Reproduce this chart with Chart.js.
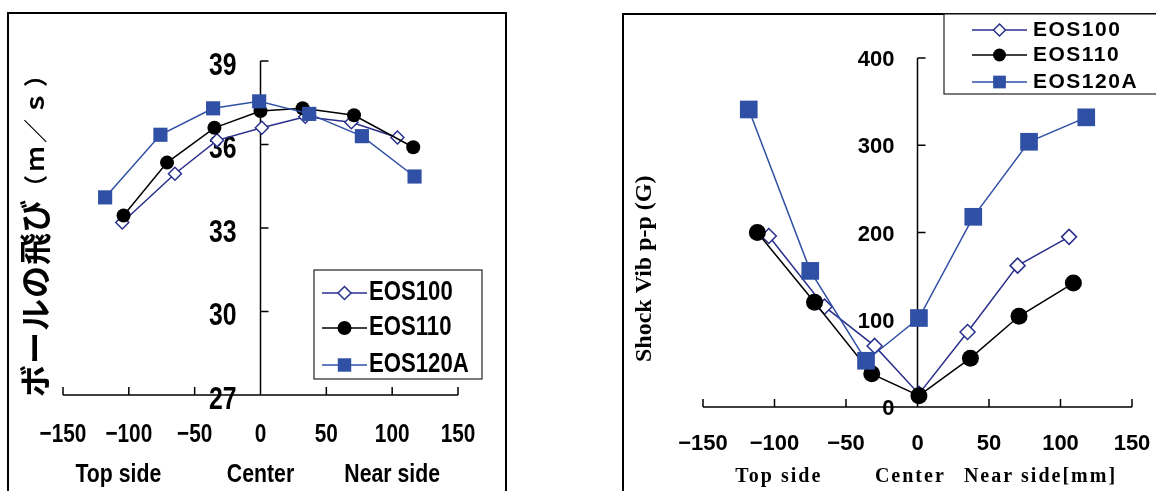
<!DOCTYPE html>
<html>
<head>
<meta charset="utf-8">
<script src="https://cdn.jsdelivr.net/npm/chart.js@4.4.1/dist/chart.umd.min.js"></script>
<style>
  html, body { margin: 0; padding: 0; background: #fff; overflow: hidden; width: 1156px; height: 491px; }
  .frame { position: absolute; border: 2px solid #000; box-sizing: border-box; height: 600px; }
  #frameL { left: 7px; top: 12px; width: 500px; }
  #frameR { left: 622px; top: 13px; width: 600px; }
  canvas { position: absolute; top: 0; }
  #speed { left: 0; }
  #vib { left: 560px; }
</style>
</head>
<body>
<div class="frame" id="frameL"></div>
<div class="frame" id="frameR"></div>
<canvas id="speed" width="560" height="491" style="width:560px;height:491px"></canvas>
<canvas id="vib" width="596" height="491" style="width:596px;height:491px"></canvas>
<script>
// --- data ---
const seriesNames = ['EOS100', 'EOS110', 'EOS120A'];

// left: ball speed (m/s) vs position (mm)
const speedX100 = [-105, -65, -33, 1, 34, 69, 104];
const speed100  = [33.2, 34.95, 36.15, 36.6, 37.0, 36.8, 36.25];
const speedX110 = [-104, -71, -35, 0, 32, 71, 116];
const speed110  = [33.45, 35.35, 36.6, 37.2, 37.3, 37.05, 35.9];
const speedX120 = [-118, -76, -36, -1, 37, 77, 117];
const speed120  = [34.1, 36.35, 37.3, 37.55, 37.1, 36.3, 34.85];
const speedYTicks = [27, 30, 33, 36, 39];

// right: shock vibration p-p (G) vs position (mm)
const vibX100 = [-104, -65, -30, 1, 35, 70, 106];
const vib100  = [196, 115, 70, 15, 86, 162, 195];
const vibX110 = [-112, -72, -32, 1, 37, 71, 109];
const vib110  = [200, 120, 38, 13, 56, 104, 142];
const vibX120 = [-118, -75, -36, 1, 39, 78, 118];
const vib120  = [341, 156, 53, 102, 218, 304, 332];
const vibYTicks = [0, 100, 200, 300, 400];

const xTicks = [-150, -100, -50, 0, 50, 100, 150];

const NAVY = '#2a2f8c';
const BLUE = '#2f50a4';

const pts = (xs, ys) => xs.map((x, i) => ({ x: x, y: ys[i] }));

function txt(ctx, s, x, y, font, align, sx, spacing) {
  ctx.save();
  ctx.translate(x, y);
  ctx.scale(sx || 1, 1);
  ctx.font = font;
  ctx.letterSpacing = (spacing || 0) + 'px';
  ctx.textAlign = align || 'center';
  ctx.textBaseline = 'middle';
  ctx.fillStyle = '#000';
  ctx.fillText(s, 0, 0);
  ctx.restore();
}

function makeSets(big) {
  return [
    { label: seriesNames[0], order: 3, borderColor: NAVY, backgroundColor: '#fff',
      pointStyle: 'rectRot', pointRadius: big ? 7.5 : 6.5, pointBorderWidth: 1.5 },
    { label: seriesNames[1], order: 2, borderColor: '#000', backgroundColor: '#000',
      pointStyle: 'circle', pointRadius: big ? 8.5 : 7, pointBorderWidth: 0 },
    { label: seriesNames[2], order: 1, borderColor: BLUE, backgroundColor: BLUE,
      pointStyle: 'rect', pointRadius: big ? 12.5 : 10, pointBorderWidth: 0 }
  ];
}

// axes, labels and legend drawn through the chart's own scales
function deco(cfg) {
  return {
    id: 'deco',
    beforeDatasetsDraw(chart) {
      const ctx = chart.ctx, xs = chart.scales.x, ys = chart.scales.y;
      const ax = xs.getPixelForValue(0), ay = ys.getPixelForValue(cfg.yMin);
      ctx.save();
      ctx.strokeStyle = '#000';
      ctx.lineWidth = 1.5;
      ctx.beginPath();
      ctx.moveTo(xs.getPixelForValue(-150), ay);
      ctx.lineTo(xs.getPixelForValue(150), ay);
      ctx.moveTo(ax, ys.getPixelForValue(cfg.yMax));
      ctx.lineTo(ax, ay);
      xTicks.forEach(v => {
        const p = xs.getPixelForValue(v);
        ctx.moveTo(p, ay); ctx.lineTo(p, ay - 8);
      });
      cfg.yTicks.forEach(v => {
        const p = ys.getPixelForValue(v);
        ctx.moveTo(ax, p); ctx.lineTo(ax + 8, p);
      });
      ctx.stroke();
      ctx.restore();

      cfg.yTicks.forEach(v => {
        txt(ctx, String(v), ax - cfg.yLabGap, ys.getPixelForValue(v) + cfg.yLabDy, cfg.tickFont, 'right', cfg.sx);
      });
      xTicks.forEach(v => {
        const s = v < 0 ? '\u2212' + Math.abs(v) : String(v);
        txt(ctx, s, xs.getPixelForValue(v), ay + cfg.xLabDy, cfg.xTickFont, 'center', cfg.sx);
      });
      cfg.sides.forEach(sd => {
        txt(ctx, sd[0], xs.getPixelForValue(sd[1]), cfg.sideY, cfg.sideFont, 'center', cfg.sideSx, cfg.sideSpacing);
      });

      // rotated axis title, drawn from the bottom up in pieces
      ctx.save();
      ctx.translate(cfg.titleX, cfg.titleY);
      ctx.rotate(-Math.PI / 2);
      let pos = 0;
      cfg.title.forEach(part => {
        ctx.font = part[1];
        ctx.letterSpacing = (part[2] || 0) + 'px';
        const w = ctx.measureText(part[0]).width;
        txt(ctx, part[0], pos, 0, part[1], 'left', 1, part[2] || 0);
        pos += w;
      });
      ctx.restore();
    },
    afterDraw(chart) {
      const ctx = chart.ctx, L = cfg.legend;
      ctx.save();
      ctx.fillStyle = '#fff';
      ctx.fillRect(L.x, L.y, L.w, L.h);
      ctx.strokeStyle = '#222';
      ctx.lineWidth = 1.2;
      ctx.strokeRect(L.x, L.y, L.w, L.h);
      chart.data.datasets.forEach((ds, i) => {
        const y = L.rows[i];
        ctx.strokeStyle = ds.borderColor;
        ctx.lineWidth = 1.5;
        ctx.beginPath();
        ctx.moveTo(L.x0, y); ctx.lineTo(L.x1, y);
        ctx.stroke();
        ctx.fillStyle = ds.backgroundColor;
        Chart.helpers.drawPoint(ctx, {
          pointStyle: ds.pointStyle, radius: L.radius[i], rotation: 0,
          borderWidth: ds.pointBorderWidth
        }, (L.x0 + L.x1) / 2, y);
        txt(ctx, ds.label, L.tx, y, L.font, 'left', L.sx, L.spacing);
      });
      ctx.restore();
    }
  };
}

function build(id, sets, yMin, yMax, padding, cfg) {
  new Chart(document.getElementById(id), {
    type: 'scatter',
    data: {
      datasets: sets.map(s => Object.assign({
        showLine: true, borderWidth: 1.5, clip: false,
        pointBackgroundColor: s.backgroundColor, pointBorderColor: s.borderColor
      }, s))
    },
    options: {
      responsive: false,
      animation: false,
      devicePixelRatio: 1,
      layout: { padding: padding },
      plugins: { legend: { display: false }, tooltip: { enabled: false } },
      scales: {
        x: { type: 'linear', min: -150, max: 150, display: false },
        y: { type: 'linear', min: yMin, max: yMax, display: false }
      }
    },
    plugins: [deco(Object.assign({ yMin: yMin, yMax: yMax }, cfg))]
  });
}

const speedSets = makeSets(false);
speedSets[0].data = pts(speedX100, speed100);
speedSets[1].data = pts(speedX110, speed110);
speedSets[2].data = pts(speedX120, speed120);

build('speed', speedSets, 27, 39, { left: 63, right: 102, top: 61, bottom: 96 }, {
  yTicks: speedYTicks,
  tickFont: 'bold 31px "Liberation Sans", Arial, sans-serif',
  xTickFont: 'bold 26px "Liberation Sans", Arial, sans-serif',
  sx: 0.8, yLabGap: 24, yLabDy: 5, xLabDy: 40,
  sides: [['Top side', -108], ['Center', 0], ['Near side', 100]],
  sideY: 475, sideFont: 'bold 25px "Liberation Sans", Arial, sans-serif', sideSx: 0.85, sideSpacing: 0,
  title: [
    ['ボールの飛び', 'bold 32px "Noto Sans CJK JP", sans-serif', 1],
    ['（ｍ／ｓ）', 'bold 24px "Noto Sans CJK JP", sans-serif', 4]
  ],
  titleX: 35, titleY: 397,
  legend: {
    x: 314, y: 270, w: 168, h: 109, rows: [293, 328, 365], x0: 322, x1: 367, tx: 369,
    radius: [6.5, 7, 9.5], font: 'bold 27px "Liberation Sans", Arial, sans-serif', sx: 0.82, spacing: 0
  }
});

const vibSets = makeSets(true);
vibSets[0].data = pts(vibX100, vib100);
vibSets[1].data = pts(vibX110, vib110);
vibSets[2].data = pts(vibX120, vib120);

build('vib', vibSets, 0, 400, { left: 143, right: 24, top: 58, bottom: 84 }, {
  yTicks: vibYTicks,
  tickFont: 'bold 22px "Liberation Sans", Arial, sans-serif',
  xTickFont: 'bold 22px "Liberation Sans", Arial, sans-serif',
  sx: 1, yLabGap: 23, yLabDy: 2, xLabDy: 37,
  sides: [['Top side', -97], ['Center', -5], ['Near side[mm]', 86]],
  sideY: 477, sideFont: 'bold 20px "Liberation Serif", "Times New Roman", serif', sideSx: 1, sideSpacing: 2,
  title: [['Shock Vib p-p (G)', 'bold 24px "Liberation Serif", "Times New Roman", serif', 0]],
  titleX: 85, titleY: 362,
  legend: {
    x: 384, y: 14, w: 240, h: 80, rows: [30, 55, 82], x0: 412, x1: 467, tx: 473,
    radius: [6, 6.5, 9], font: 'bold 21px "Liberation Sans", Arial, sans-serif', sx: 1, spacing: 1.5
  }
});
</script>
</body>
</html>
